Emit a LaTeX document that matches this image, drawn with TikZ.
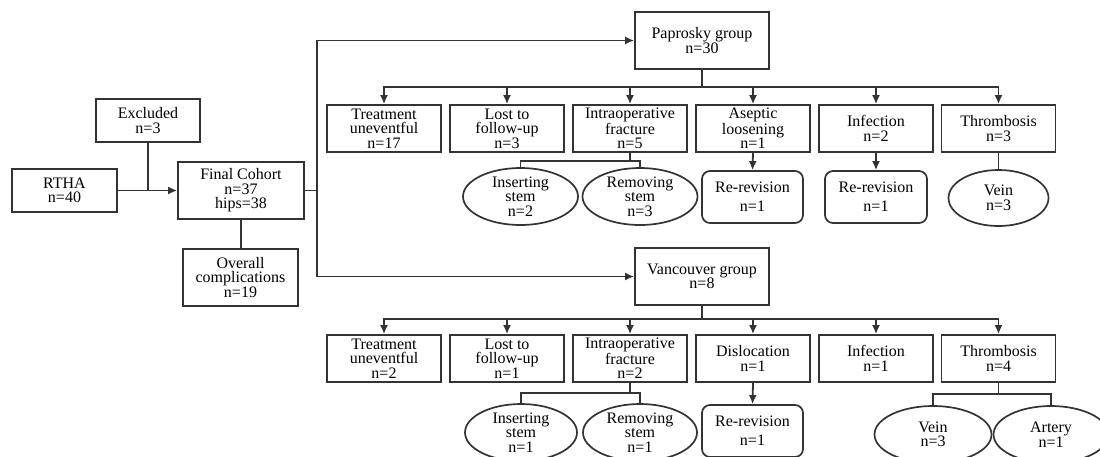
\documentclass[tikz,border=0pt]{standalone}
\usepackage{fontspec}
\setmainfont{Liberation Serif}
\usetikzlibrary{arrows.meta,shapes.geometric}
\begin{document}
\begin{tikzpicture}[x=1pt,y=-1pt,
  every node/.style={font=\fontsize{16}{14.5}\selectfont},
  conn/.style={line width=1.8pt,draw=black!80},
  arr/.style={conn,-{Latex[length=9pt,width=8pt]}},
  box/.style={draw=black!80,line width=1.7pt,inner sep=0pt,align=center,minimum width=114pt,minimum height=47pt},
  bigbox/.style={box,minimum width=126pt,minimum height=57pt},
  rbox/.style={box,rounded corners=8pt,minimum width=101pt,minimum height=52pt},
  ell/.style={draw=black!80,line width=1.7pt,ellipse,inner sep=0pt,minimum width=115pt,minimum height=57pt},
  txt/.style={inner sep=0pt,align=center}]
\useasboundingbox (0,0) rectangle (1100,456);
\clip (0,0) rectangle (1100,456);

% left part
\node[box,minimum width=105pt,minimum height=43pt] (rtha) at (64.5,190.5) {RTHA\\n=40};
\node[box,minimum width=104pt,minimum height=43pt] (excl) at (148,120.5) {Excluded\\n=3};
\node[bigbox] (final) at (241,190.5) {Final Cohort\\n=37\\hips=38};
\node[box,minimum width=115pt,minimum height=57pt] (overall) at (240.5,277.5) {Overall\\complications\\n=19};

\draw[arr] (rtha.east) -- (final.west);
\draw[conn] (excl.south) -- (excl.south |- rtha.east);
\draw[conn] (final.south) -- (final.south |- overall.north);

% groups
\node[box,minimum width=134pt,minimum height=57pt] (pap) at (702,40.5) {Paprosky group\\n=30};
\node[box,minimum width=134pt,minimum height=57pt] (van) at (702,276.5) {Vancouver group\\n=8};

\coordinate (trunk) at (317,190.5);
\draw[conn] (final.east) -- (trunk);
\draw[arr] (trunk) |- (pap.west);
\draw[arr] (trunk) |- (van.west);

% Paprosky row
\node[box] (pa) at (384,128.5) {Treatment\\uneventful\\n=17};
\node[box] (pb) at (507,128.5) {Lost to\\follow-up\\n=3};
\node[box] (pc) at (630,128.5) {Intraoperative\\fracture\\n=5};
\node[box] (pd) at (753,128.5) {Aseptic\\loosening\\n=1};
\node[box] (pe) at (876,128.5) {Infection\\n=2};
\node[box] (pf) at (998.5,128.5) {Thrombosis\\n=3};

\coordinate (pbus) at (702,87);
\draw[conn] (pap.south) -- (pbus);
\foreach \n in {pa,pb,pc,pd,pe,pf}{\draw[arr] (pbus) -| (\n.north);}

\node[ell] (pins) at (520.5,196.5) {};
\node[txt] at (pins) {Inserting\\stem\\n=2};
\node[ell] (prem) at (640,196.5) {};
\node[txt] at (prem) {Removing\\stem\\n=3};
\coordinate (pcb) at (630,161);
\draw[conn] (pc.south) -- (pcb);
\draw[conn] (pcb) -| (pins.north);
\draw[conn] (pcb) -| (prem.north);

\node[rbox] (prr1) at (752.5,197) {Re-revision\\[4.5pt]n=1};
\node[rbox,minimum width=102pt] (prr2) at (876,197) {Re-revision\\[4.5pt]n=1};
\draw[arr] (pd.south) -- (prr1.north);
\draw[arr] (pe.south) -- (prr2.north);

\node[ell,minimum width=100pt,minimum height=56pt] (pvein) at (998.5,198) {};
\node[txt] at (pvein) {Vein\\n=3};
\draw[conn] (pf.south) -- (pvein.north);

% Vancouver row
\node[box] (va) at (384,358.5) {Treatment\\uneventful\\n=2};
\node[box] (vb) at (507,358.5) {Lost to\\follow-up\\n=1};
\node[box] (vc) at (630,358.5) {Intraoperative\\fracture\\n=2};
\node[box] (vd) at (753,358.5) {Dislocation\\n=1};
\node[box] (ve) at (876,358.5) {Infection\\n=1};
\node[box] (vf) at (998.5,358.5) {Thrombosis\\n=4};

\coordinate (vbus) at (702,319);
\draw[conn] (van.south) -- (vbus);
\foreach \n in {va,vb,vc,vd,ve,vf}{\draw[arr] (vbus) -| (\n.north);}

\node[ell,minimum width=112pt] (vins) at (521,432.5) {};
\node[txt] at (vins) {Inserting\\stem\\n=1};
\node[ell,minimum width=114pt] (vrem) at (640,432.5) {};
\node[txt] at (vrem) {Removing\\stem\\n=1};
\coordinate (vcb) at (630,393);
\draw[conn] (vc.south) -- (vcb);
\draw[conn] (vcb) -| (vins.north);
\draw[conn] (vcb) -| (vrem.north);

\node[rbox] (vrr) at (752.5,431) {Re-revision\\[4.5pt]n=1};
\draw[arr] (vd.south) -- (vrr.north);

\node[ell,minimum width=117pt] (vvein) at (933,434.5) {};
\node[txt] at (vvein) {Vein\\n=3};
\node[ell,minimum width=115pt] (vart) at (1051,434.5) {};
\node[txt] at (vart) {Artery\\n=1};
\coordinate (vfb) at (998.5,394);
\draw[conn] (vf.south) -- (vfb);
\draw[conn] (vfb) -| (vvein.north);
\draw[conn] (vfb) -| (vart.north);
\end{tikzpicture}
\end{document}
